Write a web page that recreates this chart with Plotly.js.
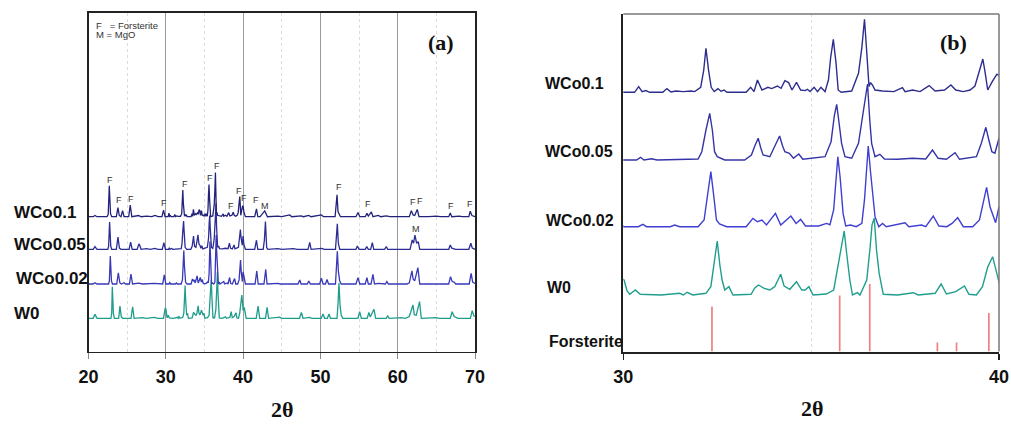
<!DOCTYPE html>
<html>
<head>
<meta charset="utf-8">
<script src="https://cdn.plot.ly/plotly-3.0.1.min.js"></script>
<style>html,body{margin:0;padding:0;background:#fff;}#chart{width:1011px;height:424px;}</style>
</head>
<body>
<div id="chart"></div>
<script>
// ---- DATA: [2θ (deg), intensity above own baseline (a.u.)] ----
const W0 = [[20,0],[20.6,0],[20.84,6.5],[21.1,0],[22.9,0],[23.0,8],[23.08,52],[23.22,8],[23.35,0],[23.9,0],[24.07,20],[24.25,2],[24.45,0],[25.5,0],[25.71,19],[25.9,0],[27.0,1],[27.5,0],[28.5,1.5],[29.0,0],[29.7,0],[29.93,17],
[30.02,15],[30.1,4],[30.17,0.7],[30.32,5],[30.45,0.7],[31.0,0],[31.5,1.7],[31.6,0],[31.7,2.7],[31.85,0],[32.2,1.7],[32.33,8.3],[32.42,30],[32.5,54],[32.57,30],[32.63,15],[32.7,5],[32.81,8.3],[32.92,0],[33.4,0.7],[33.5,7],[33.6,10],[33.75,6.7],[33.9,5],[34.03,8.3],[34.12,16],[34.19,20.7],[34.28,9],[34.43,5.7],[34.61,13.3],[34.75,5],[34.84,5],[34.94,8.3],[35.05,0],[35.4,1],[35.6,5],[35.75,38],[35.82,55],[35.88,64],[35.95,40],[36.03,15],[36.1,0],[36.23,2.3],[36.3,0],[36.48,15],[36.57,48],[36.62,70],[36.68,76.7],[36.74,45],[36.81,21.7],[36.92,0.7],[37.3,0],[37.72,2.3],[37.85,0],[38.3,1.7],[38.46,11],[38.6,1],[38.85,3.3],[38.95,5.7],[39.08,9],[39.2,0.7],[39.4,0],[39.56,8.3],[39.7,28],[39.83,38.3],[39.93,25],[40.0,13],
[40.15,18],[40.4,0],[41.7,0],[41.94,20],[42.15,0],[42.9,0],[43.1,18],[43.3,0],[44.74,2],[45.0,0],[47.3,0],[47.54,9.5],[47.75,0],[48.6,1.5],[48.9,0],[50.1,0],[50.34,7],[50.55,0],[50.9,0],[51.11,7],[51.3,0],[52.15,0],[52.3,28],[52.4,58],[52.55,20],[52.7,5],[52.9,0],[54.85,0],[55.08,11],[55.3,0],[56.05,0],[56.28,9.5],[56.45,2],[56.93,15],[57.15,0],[58.5,0],[58.7,4],[58.9,0],[60.5,1],[61.0,0],[61.5,3],[61.97,22],[62.15,6],[62.4,5],[62.83,27.5],[63.05,0],[65.0,1],[65.3,0],[66.8,0],[67.05,11],[67.3,3],[67.55,2],[67.8,0],[69.4,0],[69.64,12.7],[69.85,4],[70,3]];

const WCo002 = [[20,0],[20.6,0],[20.84,2],[21.1,0],[22.6,0],[22.7,5],[22.82,46],[22.97,5],[23.1,0],[23.65,0],[23.86,18.5],[24.05,2],[24.25,0],[24.6,2],[24.8,0],[25.3,0],[25.49,16.5],[25.7,0],[26.5,1.5],[27.0,0],[28.5,1],[29.0,0],[29.6,0],[29.8,15],[30.0,0],
[30.4,0],[30.52,2.3],[30.62,0],[31.25,0],[31.37,1.7],[31.5,0],[31.99,0],[32.15,6.7],[32.24,30],[32.33,55],[32.41,30],[32.48,6.7],[32.56,2.7],[32.75,0],[33.27,0],[33.45,8.3],[33.57,5],[33.69,6.7],[33.81,1.7],[34.05,13.3],[34.19,1.7],[34.35,6.7],[34.46,10.7],[34.6,3.3],[34.72,7.3],[34.85,0.7],[35.2,0.7],[35.41,3.3],[35.5,2],[35.6,17],[35.66,50],[35.71,70],[35.77,50],[35.85,13.3],[35.92,0.7],[36.05,1.7],[36.2,0],[36.35,3.3],[36.42,27],[36.48,60],[36.52,80.7],[36.58,55],[36.7,10],[36.8,0],[36.9,3.3],[37.0,0],[37.5,4],[37.6,0],[37.94,1.7],[38.05,0],[38.25,10.7],[38.4,0.7],[38.61,0],[38.75,3.3],[38.9,9],[39.05,0],[39.3,0],[39.48,6.7],[39.58,25],[39.67,39.3],[39.76,20],[39.91,4],[40.0,20],
[40.1,12],[40.3,0],[41.55,0],[41.77,21.5],[41.95,0],[42.7,0],[42.93,24],[43.1,0],[44.5,1],[44.8,0],[47.1,0],[47.33,6.5],[47.5,0],[48.3,0],[48.5,5],[48.7,0],[49.9,0],[50.13,9.5],[50.35,0],[50.65,0],[50.86,7.5],[51.05,0],[51.95,0],[52.1,25],[52.19,54],[52.33,20],[52.5,5],[52.7,0],[54.6,0],[54.86,10.5],[55.1,0],[55.8,0],[56.02,10.5],[56.2,0],[56.55,0],[56.8,16],[57.0,0],[57.5,1],[58.4,0],[58.6,4],[58.8,0],[61.2,0],[61.5,2],[61.84,21.5],[62.0,8],[62.2,5],[62.61,27],[62.85,0],[64.8,0],[65.0,1],[65.2,0],[66.6,0],[66.83,12],[67.05,4],[67.3,3],[67.5,0],[69.25,0],[69.5,17.5],[69.7,3],[70,1]];

const WCo005 = [[20,0],[20.6,0],[20.84,4.5],[21.1,0],[22.5,0],[22.6,5],[22.73,45],[22.88,5],[23.0,0],[23.6,0],[23.81,20],[24.0,2],[24.2,0],[25.25,0],[25.45,12],[25.65,0],[26.3,0],[26.52,9],[26.65,6],[26.8,0],[27.5,1],[28.0,0],[28.6,1.5],[29.0,0],[29.55,0],[29.75,11],[29.95,0],
[30.35,0],[30.46,2.7],[30.55,0],[30.75,1.3],[30.9,0],[31.99,1],[32.09,8.3],[32.2,30],[32.3,46.7],[32.37,30],[32.43,8.3],[32.5,3.3],[32.7,0],[33.23,0],[33.41,5],[33.5,14],[33.59,21.7],[33.66,12],[33.72,5],[33.9,3.3],[34.0,11.7],[34.16,24],[34.24,14],[34.3,8.3],[34.42,6.7],[34.53,1.7],[34.67,6],[34.78,0.7],[35.37,3.3],[35.53,18.3],[35.62,45],[35.68,55.7],[35.75,35],[35.81,16.7],[35.9,3.3],[36.08,1.7],[36.26,16.7],[36.4,50],[36.5,76],[36.56,40],[36.61,16.7],[36.7,3.3],[36.83,5.7],[36.95,1],[37.3,0.7],[37.7,1.7],[38.05,1],[38.23,10],[38.38,1.7],[38.6,0.7],[38.83,7.3],[38.95,0.7],[39.4,3.3],[39.53,16.7],[39.65,32.7],[39.73,20],[39.81,8.3],[39.89,6.7],[40.0,21.7],
[40.1,8],[40.3,0],[41.5,0],[41.73,15],[41.9,0],[42.6,0],[42.75,15],[42.89,46],[43.05,3],[43.2,0],[44.5,1],[45.0,0],[46.5,1],[47.0,0],[48.4,0],[48.62,11.5],[48.8,0],[50.2,1.5],[50.5,0],[51.95,0],[52.1,20],[52.19,42],[52.32,10],[52.5,0],[54.6,0],[54.78,5.5],[55.0,0],[55.8,0],[56.0,4.5],[56.2,0],[56.5,0],[56.72,11],[56.9,0],[58.3,0],[58.53,4.5],[58.7,0],[61.6,0],[61.88,15.5],[62.05,10],[62.23,23.5],[62.45,10],[62.66,12.7],[62.85,0],[65.0,1],[65.3,0],[66.6,0],[66.8,7],[67.0,2],[67.3,1.5],[67.5,0],[69.2,0],[69.46,10],[69.65,2],[70,0]];

const WCo01 = [[20,0],[20.6,0],[20.84,2],[21.1,0],[22.4,0],[22.55,4],[22.69,51],[22.85,5],[23.0,0],[23.6,0],[23.81,15],[23.98,2],[24.2,0],[24.41,10],[24.6,0],[25.2,0],[25.4,19],[25.6,0],[26.5,2],[26.8,0],[27.5,1],[28.2,0],[28.6,2],[29.0,0],[29.5,0],[29.71,11],[29.9,0],
[30.3,0],[30.41,5.7],[30.5,0.7],[30.6,1.7],[30.7,0],[31.05,0],[31.16,3.7],[31.27,0.3],[31.4,1.3],[31.6,0.7],[31.8,1.3],[31.9,0.7],[32.06,5],[32.14,22],[32.2,44],[32.27,22],[32.34,5],[32.42,0.7],[32.52,3.7],[32.6,1],[32.68,2.3],[32.76,0],[33.27,0],[33.39,5],[33.48,0.7],[33.57,12.3],[33.69,2.3],[33.85,5],[33.95,3.7],[34.1,6.3],[34.2,4],[34.3,11.7],[34.4,9.7],[34.49,2.3],[34.61,10],[34.72,2.3],[34.84,1.7],[34.9,3],[34.97,0.7],[35.08,5],[35.17,0.7],[35.26,5],[35.37,0.7],[35.46,12.3],[35.52,35],[35.59,53],[35.66,30],[35.72,2.3],[35.8,0],[36.08,1.3],[36.26,19],[36.35,45],[36.42,73],[36.48,40],[36.54,5.7],[36.58,9.7],[36.63,7.3],[36.7,2.3],[36.9,1.3],[37.2,0.7],[37.43,4.7],[37.5,0.7],[37.7,2.3],[37.9,0.7],[38.14,6.7],[38.3,1.3],[38.55,2.3],[38.72,7.3],[38.85,2.3],[39.05,0.7],[39.23,2.3],[39.36,6.3],[39.5,25],[39.57,33.3],[39.63,20],[39.7,2.3],[39.82,10.7],[39.94,18],[40.0,17.3],
[40.1,8],[40.3,0],[41.5,0],[41.73,13],[41.9,0],[42.2,0],[42.8,9.5],[43.0,5],[43.15,0],[44.5,1],[45.0,0],[46.03,3],[46.3,0],[47.5,1.5],[47.8,0],[48.5,2],[48.8,0],[50.13,3],[50.4,0],[51.9,0],[52.15,36],[52.28,8],[52.45,3],[52.6,0],[54.6,0],[54.86,7],[55.1,0],[55.8,0],[56.02,5.5],[56.2,1],[56.59,8],[56.8,0],[57.5,2],[57.8,0],[58.5,1.5],[59.0,0],[61.5,0],[61.76,10],[62.0,3],[62.2,2],[62.53,12],[62.75,0],[64.0,0],[65.0,1],[65.5,0],[66.6,0],[66.8,6],[67.0,0],[68.0,1],[68.3,0],[69.2,0],[69.38,9],[69.6,2],[70,0]];

// Forsterite reference lines (panel b)
const forsteritePos = [32.36, 35.76, 36.56, 38.36, 38.87, 39.73];
const forsteriteInt = [45, 56, 67.5, 9, 9, 38.5];

// Series names, stacking offsets (a.u.) in panel a and panel b
const seriesNames = ['W0', 'WCo0.02', 'WCo0.05', 'WCo0.1'];
const seriesData = [W0, WCo002, WCo005, WCo01];
const offsetsA = [54.8, 111.4, 168.6, 222.4];
const offsetsB = [56.5, 124.8, 191.5, 259.2];
const colorsA = ['#1e9c8c', '#3838b8', '#2c2c94', '#22227a'];
const colorsB = ['#1f9e8e', '#3f3fd2', '#3434a8', '#2d2d8e'];

// Peak markers (panel a): label, 2θ, height (a.u.)
const peakLabels = ['F','F','F','F','F','F','F','F','F','F','F','M','F','F','F','F','F','F','M'];
const peakPos    = [22.78,23.94,25.45,29.8,32.47,35.7,36.56,38.37,39.49,40.18,41.73,42.89,52.36,56.15,61.96,62.83,66.93,69.38,62.31];
const peakY      = [283,250,251,245.5,276,287,306.6,240.6,264.8,253.8,250,240.6,271,243.4,246.2,248.3,240.6,243.4,201.6];

const traces = [];
seriesData.forEach((s, i) => {
  const xs = s.map(p => p[0]);
  traces.push({type:'scatter', mode:'lines', x: xs, y: s.map(p => p[1] + offsetsA[i]),
    xaxis:'x', yaxis:'y', line:{color: colorsA[i], width:1.3}, hoverinfo:'skip'});
  traces.push({type:'scatter', mode:'lines', x: xs, y: s.map(p => p[1] + offsetsB[i]),
    xaxis:'x2', yaxis:'y2', line:{color: colorsB[i], width:1.4}, hoverinfo:'skip'});
});
traces.push({type:'bar', x: forsteritePos, y: forsteriteInt, width: 0.045, xaxis:'x2', yaxis:'y2',
  marker:{color:'#ee8080', line:{width:0}}, hoverinfo:'skip'});

const W = 1011, H = 424;
const px = v => v / W, py = v => 1 - v / H;
const labFont = {family:'Liberation Sans, Arial, sans-serif', size:17, color:'#111', weight:'bold'};
const labFontB = {family:'Liberation Sans, Arial, sans-serif', size:16, color:'#111', weight:'bold'};

const annotations = [];
// panel a series labels
[[12,313],[14,278],[12,244],[12,212]].forEach((p, i) => annotations.push({
  xref:'paper', yref:'paper', x: px(p[0]), y: py(p[1]), xanchor:'left', yanchor:'middle',
  text: seriesNames[i], showarrow:false, font: labFont}));
// panel b series labels
[[545,287],[544,220],[543,152],[543,83]].forEach((p, i) => annotations.push({
  xref:'paper', yref:'paper', x: px(p[0]), y: py(p[1]), xanchor:'left', yanchor:'middle',
  text: seriesNames[i], showarrow:false, font: labFontB}));
annotations.push({xref:'paper', yref:'paper', x: px(547), y: py(341), xanchor:'left', yanchor:'middle',
  text:'Forsterite', showarrow:false, font: labFontB});
// peak labels
peakLabels.forEach((t, i) => annotations.push({xref:'x', yref:'y', x: peakPos[i], y: peakY[i],
  text: t, showarrow:false, xanchor:'center', yanchor:'middle',
  font:{family:'Liberation Sans, Arial, sans-serif', size:9, color:'#333'}}));
// key
annotations.push({xref:'paper', yref:'paper', x: px(94), y: py(25), xanchor:'left', yanchor:'middle',
  text:'F&nbsp;&nbsp;&nbsp;= Forsterite', showarrow:false, font:{family:'Liberation Sans, Arial, sans-serif', size:9.5, color:'#333'}});
annotations.push({xref:'paper', yref:'paper', x: px(94), y: py(35), xanchor:'left', yanchor:'middle',
  text:'M&nbsp;= MgO', showarrow:false, font:{family:'Liberation Sans, Arial, sans-serif', size:9.5, color:'#333'}});
// panel letters
annotations.push({xref:'paper', yref:'paper', x: px(441), y: py(43), xanchor:'center', yanchor:'middle',
  text:'(a)', showarrow:false, font:{family:'Liberation Serif, serif', size:22, color:'#111', weight:'bold'}});
annotations.push({xref:'paper', yref:'paper', x: px(953), y: py(43), xanchor:'center', yanchor:'middle',
  text:'(b)', showarrow:false, font:{family:'Liberation Serif, serif', size:22, color:'#111', weight:'bold'}});
// axis titles
annotations.push({xref:'paper', yref:'paper', x: px(282), y: py(409), xanchor:'center', yanchor:'middle',
  text:'2θ', showarrow:false, font:{family:'Liberation Serif, serif', size:22, color:'#111', weight:'bold'}});
annotations.push({xref:'paper', yref:'paper', x: px(812), y: py(408), xanchor:'center', yanchor:'middle',
  text:'2θ', showarrow:false, font:{family:'Liberation Serif, serif', size:22, color:'#111', weight:'bold'}});

const tickFont = {family:'Liberation Sans, Arial, sans-serif', size:18, color:'#111', weight:'bold'};
const yDomA = [py(351.5), py(13)], yDomB = [py(351.5), py(14)];
const layout = {
  width: W, height: H, margin:{l:0, r:0, t:0, b:0, pad:0},
  paper_bgcolor:'#fff', plot_bgcolor:'#fff', showlegend:false,
  xaxis:{domain:[px(88.5), px(475)], range:[20,70], anchor:'y', tick0:20, dtick:10,
    ticks:'outside', ticklen:6, tickcolor:'#888', tickwidth:1, ticklabelstandoff:2,
    showgrid:true, gridcolor:'#9a9a9a', gridwidth:1,
    minor:{tick0:20, dtick:5, showgrid:true, gridcolor:'#dcdcdc', griddash:'dot', gridwidth:1, ticks:''},
    showline:true, mirror:true, linecolor:'#222', linewidth:1.6, zeroline:false, tickfont: tickFont},
  yaxis:{domain: yDomA, range:[0,558.5], anchor:'x', showticklabels:false, ticks:'', showgrid:false,
    zeroline:false, showline:true, mirror:true, linecolor:'#222', linewidth:1.6},
  xaxis2:{domain:[px(623.3), px(999)], range:[30,40], anchor:'y2', tick0:30, dtick:10,
    ticks:'outside', ticklen:6, tickcolor:'#222', tickwidth:1.5, ticklabelstandoff:2, showgrid:false,
    minor:{tick0:30, dtick:5, showgrid:true, gridcolor:'#dddddd', griddash:'dot', gridwidth:1, ticks:''},
    showline:true, linecolor:'#222', linewidth:2, zeroline:false, tickfont: tickFont},
  yaxis2:{domain: yDomB, range:[0,337.5], anchor:'x2', showticklabels:false, ticks:'', showgrid:false,
    zeroline:false, showline:true, linecolor:'#222', linewidth:2},
  shapes:[
    {type:'line', xref:'paper', yref:'paper', x0:px(623.3), x1:px(999), y0:py(14), y1:py(14), line:{color:'#777', width:1.5}},
    {type:'line', xref:'paper', yref:'paper', x0:px(999), x1:px(999), y0:py(351.5), y1:py(14), line:{color:'#777', width:1.5}}
  ],
  annotations: annotations
};
Plotly.newPlot('chart', traces, layout, {staticPlot:true, displayModeBar:false});
</script>
</body>
</html>
